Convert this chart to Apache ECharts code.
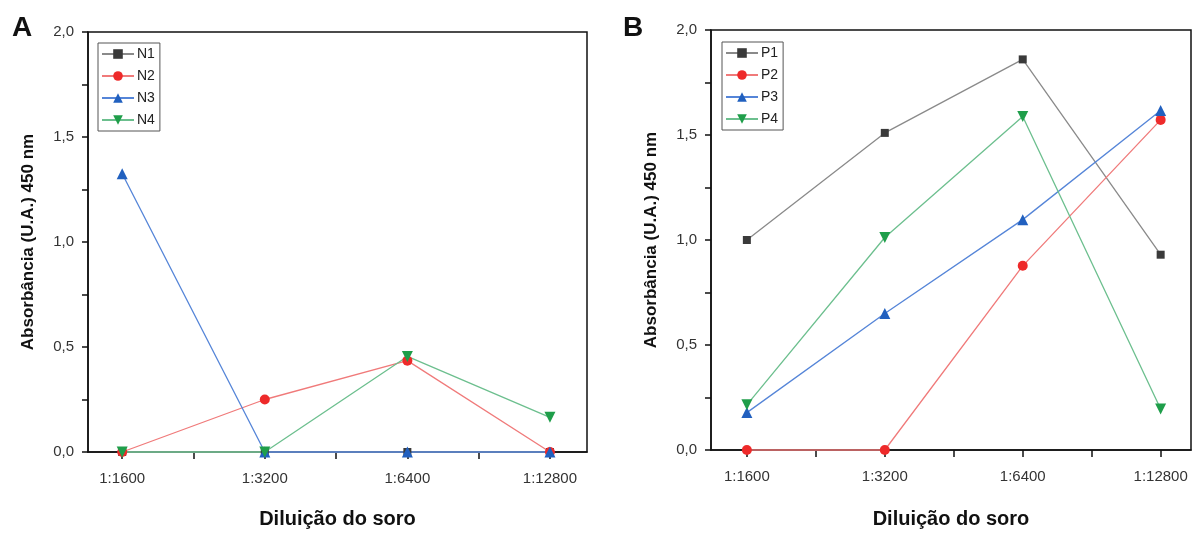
<!DOCTYPE html>
<html>
<head>
<meta charset="utf-8">
<title>Absorbância x Diluição do soro</title>
<script src="https://cdn.jsdelivr.net/npm/echarts@6/dist/echarts.min.js"></script>
<style>
  html, body { margin: 0; padding: 0; background: #fff; }
  #chart { width: 1196px; height: 534px; }
</style>
</head>
<body>
<div id="chart"></div>
<script>
// categorias do eixo x (posicoes 1..4)
var diluicoes = ['1:1600', '1:3200', '1:6400', '1:12800'];
var xPos = [1, 2, 3, 4];
var xTicks = [1, 1.5, 2, 2.5, 3, 3.5, 4];
var yLabels = [0, 0.5, 1, 1.5, 2];
var yTicks = [0, 0.25, 0.5, 0.75, 1, 1.25, 1.5, 1.75, 2];

// painel A - soros negativos
var N1 = [0, 0, 0, 0];
var N2 = [0, 0.25, 0.435, 0];
var N3 = [1.325, 0, 0, 0];
var N4 = [0, 0, 0.455, 0.165];

// painel B - soros positivos
var P1 = [1.0, 1.51, 1.86, 0.93];
var P2 = [0, 0, 0.877, 1.572];
var P3 = [0.178, 0.65, 1.097, 1.617];
var P4 = [0.215, 1.012, 1.588, 0.195];

var estilos = [
  { symbol: 'rect', size: 8, mark: '#3a3a3a', line: '#8a8a8a' },
  { symbol: 'circle', size: 10, mark: '#ee2a2a', line: '#f07a7a' },
  { symbol: 'triangle', size: 11, mark: '#2160bf', line: '#5585d8' },
  { symbol: 'path://M0,0L10,0L5,9Z', size: 11, mark: '#1f9e4a', line: '#6cbf8e' }
];

function pares(vals) {
  var out = [];
  for (var i = 0; i < vals.length; i++) out.push([xPos[i], vals[i]]);
  return out;
}

function fmtY(v) {
  return v.toFixed(1).replace('.', ',');
}

function fmtX(v) {
  var i = xPos.indexOf(Math.round(v));
  return i >= 0 ? diluicoes[i] : '';
}

function eixoX(idx, min, max, gap) {
  return {
    type: 'value', gridIndex: idx, min: min, max: max,
    name: 'Diluição do soro', nameLocation: 'middle', nameGap: gap,
    nameTextStyle: { fontSize: 20, fontWeight: 'bold', color: '#111', fontFamily: 'Liberation Sans' },
    axisLine: { lineStyle: { color: '#111', width: 1.5 } },
    axisTick: { show: true, length: 7, customValues: xTicks, lineStyle: { color: '#111', width: 1.5 } },
    axisLabel: { customValues: xPos, formatter: fmtX, fontSize: 15, color: '#333', margin: 19, fontFamily: 'Liberation Sans' },
    splitLine: { show: false }
  };
}

function eixoY(idx, gap) {
  return {
    type: 'value', gridIndex: idx, min: 0, max: 2,
    name: 'Absorbância (U.A.) 450 nm', nameLocation: 'middle', nameGap: gap, nameRotate: 90,
    nameTextStyle: { fontSize: 17, fontWeight: 'bold', color: '#111', fontFamily: 'Liberation Sans' },
    axisLine: { show: true, lineStyle: { color: '#111', width: 1.5 } },
    axisTick: { show: true, length: 6, customValues: yTicks, lineStyle: { color: '#111', width: 1.5 } },
    axisLabel: { customValues: yLabels, formatter: fmtY, fontSize: 15, color: '#333', margin: 14, fontFamily: 'Liberation Sans' },
    splitLine: { show: false }
  };
}

function serie(nome, vals, k, idx) {
  var e = estilos[k];
  return {
    name: nome, type: 'line', xAxisIndex: idx, yAxisIndex: idx,
    data: pares(vals), symbol: e.symbol, symbolSize: e.size, showAllSymbol: true,
    itemStyle: { color: e.mark },
    lineStyle: { color: e.line, width: 1.3 },
    emphasis: { disabled: true }, clip: false, animation: false
  };
}

function legenda(left, top, nomes) {
  return {
    left: left, top: top, orient: 'vertical', data: nomes,
    itemWidth: 32, itemHeight: 12, itemGap: 8,
    padding: [4, 5, 4, 3],
    borderColor: '#555', borderWidth: 1,
    textStyle: { fontSize: 14, color: '#222', padding: [0, 0, 0, -2], fontFamily: 'Liberation Sans' }
  };
}

var chart = echarts.init(document.getElementById('chart'), null, { renderer: 'canvas' });
var option = {
  backgroundColor: '#fff',
  animation: false,
  textStyle: { fontFamily: 'Liberation Sans' },
  title: [
    { text: 'A', left: 7, top: 9, textStyle: { fontSize: 28, fontWeight: 'bold', color: '#111' } },
    { text: 'B', left: 618, top: 9, textStyle: { fontSize: 28, fontWeight: 'bold', color: '#111' } }
  ],
  legend: [legenda(98, 43, ['N1', 'N2', 'N3', 'N4']), legenda(722, 42, ['P1', 'P2', 'P3', 'P4'])],
  grid: [
    { left: 88, top: 32, width: 499, height: 420, show: true, borderColor: '#111', borderWidth: 1.5, backgroundColor: 'transparent' },
    { left: 711, top: 30, width: 480, height: 423, show: true, borderColor: '#111', borderWidth: 1.5, backgroundColor: 'transparent' }
  ],
  xAxis: [eixoX(0, 0.76, 4.26, 57), eixoX(1, 0.74, 4.22, 59)],
  yAxis: [eixoY(0, 51), eixoY(1, 51)],
  series: [
    serie('N1', N1, 0, 0), serie('N2', N2, 1, 0), serie('N3', N3, 2, 0), serie('N4', N4, 3, 0),
    serie('P1', P1, 0, 1), serie('P2', P2, 1, 1), serie('P3', P3, 2, 1), serie('P4', P4, 3, 1)
  ]
};
chart.setOption(option);
</script>
</body>
</html>
